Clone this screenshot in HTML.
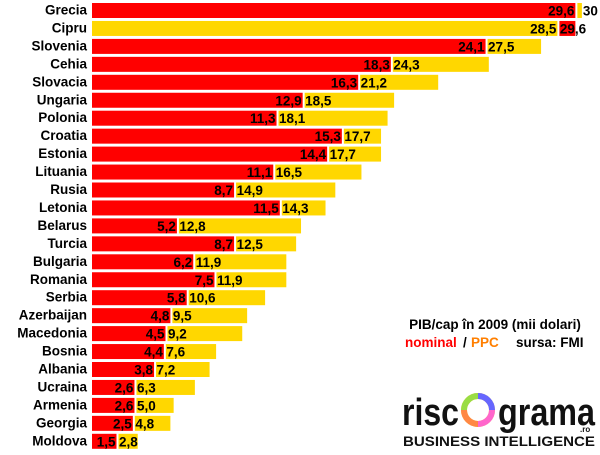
<!DOCTYPE html>
<html><head><meta charset="utf-8"><style>
body{margin:0;background:#fff;width:600px;height:450px;overflow:hidden;font-family:"Liberation Sans",sans-serif}
svg text{font-family:"Liberation Sans",sans-serif;font-weight:bold}
</style></head><body>
<svg id="chart" width="600" height="450" xmlns="http://www.w3.org/2000/svg">
<g id="bars"></g>
<text x="495" y="329" font-size="13.5" text-anchor="middle" fill="#000">PIB/cap în 2009 (mii dolari)</text>
<g font-size="13.5">
<text x="405" y="347" fill="#ff0000">nominal</text>
<text x="463" y="347" fill="#000">/</text>
<text x="471" y="347" fill="#ff7f00">PPC</text>
<text x="516" y="347" fill="#000">sursa: FMI</text>
</g>
<g>
<text x="402" y="425" font-size="38" font-weight="normal" fill="#111" textLength="57" lengthAdjust="spacingAndGlyphs">risc</text>
<g transform="translate(478,410)">
<circle r="14" fill="none" stroke="#ffcc33" stroke-width="6"/>
<path d="M0,-14 A14,14 0 0 1 14,0" fill="none" stroke="#6666ff" stroke-width="6"/>
<path d="M14,0 A14,14 0 0 1 0,14" fill="none" stroke="#ff66cc" stroke-width="6"/>
<path d="M0,14 A14,14 0 0 1 -14,0" fill="none" stroke="#ff8844" stroke-width="6"/>
<path d="M-14,0 A14,14 0 0 1 0,-14" fill="none" stroke="#99dd44" stroke-width="6"/>
</g>
<text x="498" y="425" font-size="38" font-weight="normal" fill="#111" textLength="97" lengthAdjust="spacingAndGlyphs">grama</text>
<text x="580" y="432" font-size="8" font-weight="normal" fill="#111">.ro</text>
<text x="403" y="446" font-size="14" font-weight="normal" fill="#111" textLength="192" lengthAdjust="spacingAndGlyphs">BUSINESS INTELLIGENCE</text>
</g>
</svg>
<script>
const countries=["Grecia","Cipru","Slovenia","Cehia","Slovacia","Ungaria","Polonia","Croatia","Estonia","Lituania","Rusia","Letonia","Belarus","Turcia","Bulgaria","Romania","Serbia","Azerbaijan","Macedonia","Bosnia","Albania","Ucraina","Armenia","Georgia","Moldova"];
const nominal=[29.6,29.6,24.1,18.3,16.3,12.9,11.3,15.3,14.4,11.1,8.7,11.5,5.2,8.7,6.2,7.5,5.8,4.8,4.5,4.4,3.8,2.6,2.6,2.5,1.5];
const ppc=[30,28.5,27.5,24.3,21.2,18.5,18.1,17.7,17.7,16.5,14.9,14.3,12.8,12.5,11.9,11.9,10.6,9.5,9.2,7.6,7.2,6.3,5.0,4.8,2.8];
const NS="http://www.w3.org/2000/svg";
const g=document.getElementById('bars');
const x=v=>92+v*16.33;
const y=i=>2+i*17.95;
function fm(v){let s=v.toFixed(1).replace('.',',');if(v===30)s='30';return s;}
function mk(tag,a){const e=document.createElementNS(NS,tag);for(const k in a)e.setAttribute(k,a[k]);g.appendChild(e);return e;}
countries.forEach((c,i)=>{
  const t=y(i);
  const lab=mk('text',{x:87,y:t+12.5,'font-size':13.5,'text-anchor':'end',fill:'#000'});
  
  
  lab.textContent=c;
  const a=nominal[i],b=ppc[i];
  const first=a<=b?{v:a,col:'#ff0000'}:{v:b,col:'#ffd700'};
  const second=a<=b?{v:b,col:'#ffd700'}:{v:a,col:'#ff0000'};
  const r1=mk('rect',{x:92,y:t+1,width:x(first.v)-92,height:15,fill:first.col});
  
  
  const s=x(first.v)+2;
  const r2=mk('rect',{x:s,y:t+1,width:Math.max(0,x(second.v)-s),height:15,fill:second.col});
  
  
  const l1=mk('text',{x:x(first.v)-1,y:t+13.5,'font-size':13.5,'text-anchor':'end',fill:'#000'});
  
  
  l1.textContent=fm(first.v);
  const l2=mk('text',{x:s+0.5,y:t+13.5,'font-size':13.5,fill:'#000'});
  
  
  l2.textContent=fm(second.v);
  if(second.v-first.v<0.6){l2.setAttribute('x',x(second.v)+1);}
});
</script>
</body></html>
